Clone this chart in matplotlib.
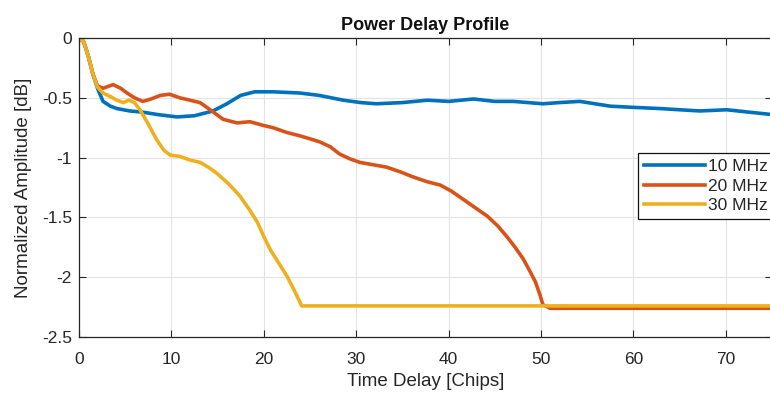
import matplotlib
matplotlib.use("Agg")
import matplotlib.pyplot as plt

# data
x_10 = [0, 0.5, 1.0, 1.5, 2.0, 2.6, 3.4, 4.1, 5.5, 6.9, 8.5, 10.6, 12.5, 14.5, 16.0, 17.5,
        19.0, 21.0, 23.9, 26.0, 28.6, 30.5, 32.2, 35.0, 37.7, 40.0, 42.7, 45.0, 47.0, 50.2,
        52.0, 54.2, 57.5, 60.0, 62.9, 65.0, 67.2, 70.1, 72.5, 75.0]
y_10 = [0, -0.03, -0.15, -0.30, -0.42, -0.53, -0.57, -0.59, -0.61, -0.62, -0.64, -0.66, -0.65,
        -0.61, -0.55, -0.48, -0.45, -0.45, -0.46, -0.48, -0.52, -0.54, -0.55, -0.54, -0.52,
        -0.53, -0.51, -0.53, -0.53, -0.55, -0.54, -0.53, -0.57, -0.58, -0.59, -0.60, -0.61,
        -0.60, -0.62, -0.64]

x_20 = [0, 0.5, 1.0, 1.5, 2.0, 2.6, 3.7, 4.5, 5.2, 6.0, 6.9, 7.8, 8.8, 9.8, 10.9, 12.0, 13.1,
        14.2, 15.6, 17.1, 18.5, 19.9, 21.0, 22.5, 24.0, 25.3, 26.1, 27.2, 28.2, 29.3, 30.4,
        33.3, 34.8, 36.1, 37.6, 39.1, 40.3, 41.6, 42.9, 44.2, 45.3, 46.3, 47.2, 48.1, 48.8,
        49.4, 49.9, 50.2, 51.0, 75.0]
y_20 = [0, -0.03, -0.15, -0.30, -0.40, -0.42, -0.39, -0.42, -0.46, -0.50, -0.53, -0.51, -0.48,
        -0.47, -0.50, -0.52, -0.54, -0.60, -0.68, -0.71, -0.70, -0.73, -0.75, -0.79, -0.82,
        -0.85, -0.87, -0.91, -0.97, -1.01, -1.04, -1.08, -1.12, -1.16, -1.20, -1.23, -1.28,
        -1.35, -1.42, -1.49, -1.57, -1.66, -1.75, -1.85, -1.95, -2.04, -2.15, -2.23, -2.26,
        -2.26]

x_30 = [0, 0.5, 1.0, 1.5, 2.0, 2.6, 3.4, 4.1, 4.8, 5.4, 6.0, 6.6, 7.5, 8.4, 9.2, 9.9, 10.9,
        12.0, 13.1, 14.0, 14.9, 16.2, 17.4, 18.4, 19.3, 20.0, 20.7, 21.6, 22.5, 23.3, 24.1, 75.0]
y_30 = [0, -0.03, -0.15, -0.30, -0.41, -0.46, -0.49, -0.52, -0.54, -0.52, -0.54, -0.60, -0.72,
        -0.85, -0.94, -0.98, -0.99, -1.02, -1.04, -1.08, -1.13, -1.22, -1.32, -1.43, -1.54,
        -1.66, -1.77, -1.88, -1.99, -2.11, -2.24, -2.24]

labels = ["10 MHz", "20 MHz", "30 MHz"]
colors = ["#0072BD", "#D95319", "#EDB120"]

plt.rcParams["font.family"] = ["Liberation Sans", "DejaVu Sans"]
text_c = "#262626"

fig = plt.figure(figsize=(7.7, 3.96), dpi=100)
ax = fig.add_axes([79 / 770, 59 / 396, 693 / 770, 299 / 396])

for xs, ys, lab, c in zip([x_10, x_20, x_30], [y_10, y_20, y_30], labels, colors):
    ax.plot(xs, ys, color=c, lw=2.6, label=lab, solid_joinstyle="round")

ax.set_xlim(0, 75)
ax.set_ylim(-2.5, 0)
ax.set_xticks(range(0, 80, 10))
ax.set_yticks([-2.5, -2, -1.5, -1, -0.5, 0])
ax.set_yticklabels(["-2.5", "-2", "-1.5", "-1", "-0.5", "0"])
ax.grid(True, color="#e3e3e3", lw=0.8)
ax.set_axisbelow(True)
ax.tick_params(direction="in", top=True, right=True, length=5, width=0.8,
               colors=text_c, labelsize=12.5)
ax.tick_params(axis="x", pad=11)
ax.tick_params(axis="y", pad=5)
for s in ax.spines.values():
    s.set_color(text_c)
    s.set_linewidth(0.9)

ax.set_title("Power Delay Profile", fontsize=13, fontweight="bold", color="#111111", pad=6)
ax.set_xlabel("Time Delay [Chips]", fontsize=13.5, color=text_c, labelpad=4)
ax.set_ylabel("Normalized Amplitude [dB]", fontsize=13.5, color=text_c, labelpad=7)

leg = ax.legend(loc="center left", bbox_to_anchor=(0.807, 0.505), fontsize=12.5,
                handlelength=3.5, handletextpad=0.15, borderpad=0.35, labelspacing=0.25,
                fancybox=False, framealpha=1, edgecolor="#111111", borderaxespad=0)
leg.get_frame().set_linewidth(0.9)
for t in leg.get_texts():
    t.set_color(text_c)

fig.savefig("out.png", dpi=100)
